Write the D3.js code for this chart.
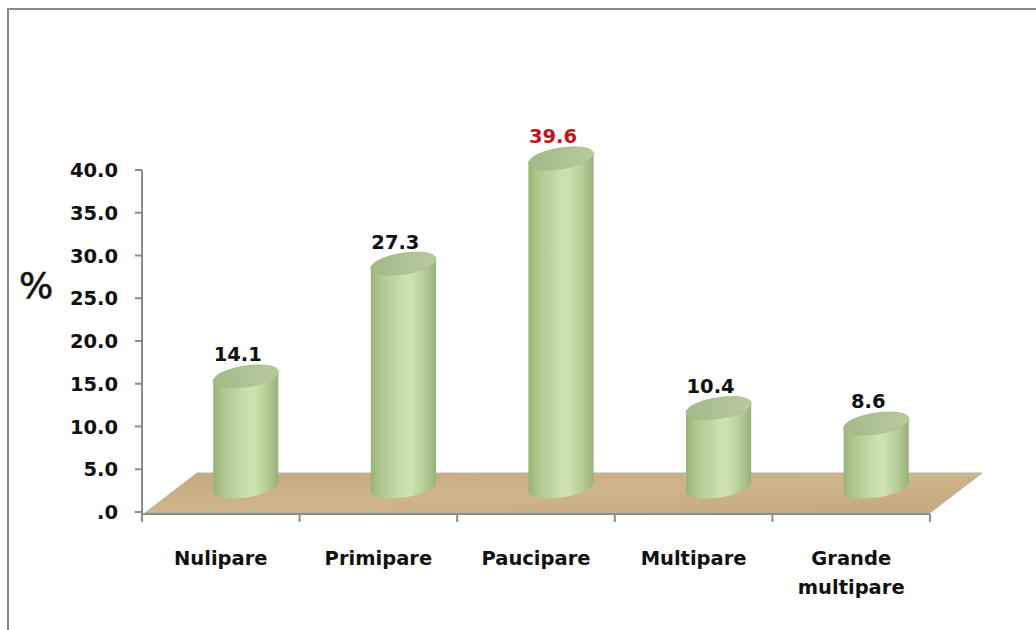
<!DOCTYPE html>
<html>
<head>
<meta charset="utf-8">
<script src="https://cdn.jsdelivr.net/npm/d3@7"></script>
<style>
  html, body { margin: 0; padding: 0; background: #fff; }
  svg { display: block; }
  text { font-family: "DejaVu Sans", sans-serif; }
</style>
</head>
<body>
<script>
// ---- data ----
const categories = ["Nulipare", "Primipare", "Paucipare", "Multipare", "Grande multipare"];
const values = [14.1, 27.3, 39.6, 10.4, 8.6];
const yTicks = [0, 5, 10, 15, 20, 25, 30, 35, 40];
const yTickLabels = [".0", "5.0", "10.0", "15.0", "20.0", "25.0", "30.0", "35.0", "40.0"];
const highlight = [false, false, true, false, false];

// ---- layout ----
const W = 1036, H = 630;
const svg = d3.select("body").append("svg").attr("width", W).attr("height", H);
const defs = svg.append("defs");

const x = d3.scaleBand().domain(categories).range([142, 930]).padding(0);
const y = d3.scaleLinear().domain([0, 40]).range([512, 170]);

// outer frame (only top/left visible)
svg.append("rect").attr("x", 8).attr("y", 9).attr("width", W + 20).attr("height", H + 20)
  .attr("fill", "none").attr("stroke", "#8a8a8a").attr("stroke-width", 2);

// gradients
const bodyGrad = defs.append("linearGradient").attr("id", "body").attr("x1", 0).attr("x2", 1).attr("y1", 0).attr("y2", 0);
[[0, "#98b279"], [0.12, "#abc48c"], [0.5, "#cae0ae"], [0.62, "#cde2b1"], [0.85, "#b3ca95"], [1, "#98b178"]]
  .forEach(([o, c]) => bodyGrad.append("stop").attr("offset", o).attr("stop-color", c));
const topGrad = defs.append("linearGradient").attr("id", "top").attr("x1", 0).attr("x2", 1).attr("y1", 0).attr("y2", 0);
[[0, "#a3b98a"], [1, "#b8cb9e"]].forEach(([o, c]) => topGrad.append("stop").attr("offset", o).attr("stop-color", c));
const floorGrad = defs.append("linearGradient").attr("id", "floor").attr("x1", 0).attr("x2", 1).attr("y1", 0).attr("y2", 1);
[[0, "#c6a97d"], [0.5, "#cfb58c"], [1, "#c4a679"]].forEach(([o, c]) => floorGrad.append("stop").attr("offset", o).attr("stop-color", c));

// floor
const fx0 = x.range()[0] + 3, fx1 = x.range()[1], fy = y(0) + 1, dX = 52, dY = 40;
svg.append("path")
  .attr("d", `M${fx0},${fy} L${fx1},${fy} L${fx1 + dX},${fy - dY} L${fx0 + dX},${fy - dY} Z`)
  .attr("fill", "url(#floor)").attr("stroke", "#b8b2a8").attr("stroke-width", 1);

// axes
const axisColor = "#8c8c8c";
svg.append("line").attr("x1", 142).attr("x2", 142).attr("y1", y(40)).attr("y2", y(0) + 2)
  .attr("stroke", axisColor).attr("stroke-width", 2);
svg.append("line").attr("x1", 142).attr("x2", 930).attr("y1", y(0) + 2).attr("y2", y(0) + 2)
  .attr("stroke", axisColor).attr("stroke-width", 2);

svg.selectAll(".ytick").data(yTicks).enter().append("line")
  .attr("x1", 135).attr("x2", 142).attr("y1", d => y(d)).attr("y2", d => y(d))
  .attr("stroke", axisColor).attr("stroke-width", 2);
svg.selectAll(".ylab").data(yTicks).enter().append("text")
  .attr("x", 118).attr("y", d => y(d) + 7).attr("text-anchor", "end")
  .attr("font-size", 19.5).attr("font-weight", "bold").attr("fill", "#111")
  .text((d, i) => yTickLabels[i]);

const bounds = categories.map(c => x(c)).concat([x.range()[1]]);
svg.selectAll(".xtick").data(bounds).enter().append("line")
  .attr("x1", d => d).attr("x2", d => d).attr("y1", y(0) + 2).attr("y2", y(0) + 10)
  .attr("stroke", axisColor).attr("stroke-width", 2);

// % label
svg.append("text").attr("x", 36).attr("y", 298).attr("text-anchor", "middle")
  .attr("font-size", 36).attr("fill", "#111").attr("stroke", "#111").attr("stroke-width", 0.6).text("%");

// cylinders
const rx = 33, ry = 10.5, rot = -9 * Math.PI / 180;
const baseOffY = 25, topOffY = 15, offX = 25;
function ellPt(cx, cy, t) {
  const ex = rx * Math.cos(t), ey = ry * Math.sin(t);
  return [cx + ex * Math.cos(rot) - ey * Math.sin(rot), cy + ex * Math.sin(rot) + ey * Math.cos(rot)];
}
function ellipsePath(cx, cy) {
  const pts = d3.range(0, 73).map(i => ellPt(cx, cy, i / 72 * 2 * Math.PI));
  return d3.line()(pts) + "Z";
}
function bodyPath(cx, cyTop, cyBase) {
  const bottom = d3.range(0, 37).map(i => ellPt(cx, cyBase, Math.PI - i / 36 * Math.PI));
  const topBack = d3.range(0, 37).map(i => ellPt(cx, cyTop, -i / 36 * Math.PI));
  return d3.line()(bottom.concat(topBack)) + "Z";
}

const bars = svg.selectAll(".bar").data(categories).enter().append("g");
bars.each(function (c, i) {
  const g = d3.select(this);
  const cx = x(c) + x.bandwidth() / 2 + offX;
  const cyBase = y(0) - baseOffY;
  const cyTop = y(values[i]) - topOffY;
  g.append("path").attr("d", bodyPath(cx, cyTop, cyBase)).attr("fill", "url(#body)");
  g.append("path").attr("d", ellipsePath(cx, cyTop)).attr("fill", "url(#top)")
    .attr("stroke", "#a5bc8b").attr("stroke-width", 0.6);
  g.append("text").attr("x", cx - 8).attr("y", cyTop - 15).attr("text-anchor", "middle")
    .attr("font-size", 19.5).attr("font-weight", "bold")
    .attr("fill", highlight[i] ? "#c0141c" : "#111").text(values[i].toFixed(1));
});

// category labels
svg.selectAll(".xlab").data(categories).enter().append("text")
  .attr("text-anchor", "middle").attr("font-size", 19.5).attr("font-weight", "bold").attr("fill", "#111")
  .attr("x", d => x(d) + x.bandwidth() / 2).attr("y", 565)
  .each(function (d) {
    const words = d.split(" ");
    const t = d3.select(this);
    if (words.length > 1) {
      t.append("tspan").attr("x", x(d) + x.bandwidth() / 2).attr("dy", 0).text(words[0]);
      t.append("tspan").attr("x", x(d) + x.bandwidth() / 2).attr("dy", 29).text(words.slice(1).join(" "));
    } else {
      t.text(d);
    }
  });
</script>
</body>
</html>
